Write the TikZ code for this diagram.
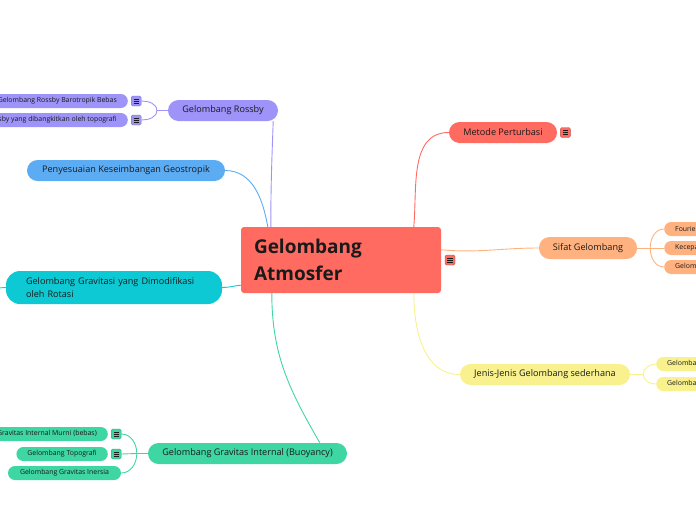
\documentclass[tikz,border=0pt]{standalone}
\usepackage{fontspec}
\setmainfont{Open Sans}
\usetikzlibrary{positioning,calc}

\definecolor{ink}{HTML}{1A1A1A}
\definecolor{rootc}{HTML}{FF6A61}
\definecolor{rossbyc}{HTML}{9D93F8}
\definecolor{geoc}{HTML}{5CACF4}
\definecolor{rotc}{HTML}{0CC9D3}
\definecolor{buoyc}{HTML}{3ED6A2}
\definecolor{pertc}{HTML}{FF6A61}
\definecolor{sifatc}{HTML}{FFB27F}
\definecolor{jenisc}{HTML}{F8F18E}

\begin{document}
\begin{tikzpicture}[x=1pt, y=-1pt,
    root/.style={fill=rootc, rounded corners=3pt, minimum width=200pt,
                 minimum height=66pt, text width=174pt, inner xsep=13pt,
                 align=left, text=ink,
                 font=\fontsize{19}{27}\selectfont\bfseries},
    topic/.style={fill=#1, rounded corners=10.5pt, minimum height=21pt,
                  inner xsep=12pt, inner ysep=0pt, text=ink,
                  font=\fontsize{9.1}{11}\selectfont},
    leaf/.style={fill=#1, rounded corners=7pt, minimum height=14pt,
                 inner xsep=11pt, inner ysep=0pt, text=ink,
                 font=\fontsize{6.9}{8}\selectfont},
    menu/.style={fill=#1, draw=#1!75!black, line width=0.4pt,
                 rounded corners=1.5pt, minimum size=10pt, inner sep=0pt,
                 path picture={
                   \foreach \dy in {-2.2,0,2.2}
                     \draw[ink, line width=0.6pt]
                       ([xshift=-2.6pt, yshift=\dy pt]path picture bounding box.center)
                       -- ++(5.2pt,0);
                 }},
    link/.style={draw=#1, line width=0.9pt}
  ]
  \useasboundingbox (0,0) rectangle (696,520);
  \clip (0,0) rectangle (696,520);

  % centre
  \node[root] (atm) at (341,260) {Gelombang\\Atmosfer};
  \node[menu=rootc] (atmm) at (450,260) {};

  % left side
  \node[topic=rossbyc, minimum width=110pt] (rossby) at (223,110.5) {Gelombang Rossby};
  \node[leaf=rossbyc, anchor=east] (rb1) at (128,101) {Gelombang Rossby Barotropik Bebas};
  \node[menu=rossbyc, right=3pt of rb1] (rb1m) {};
  \node[leaf=rossbyc, anchor=east] (rb2) at (128,120) {Gelombang Rossby yang dibangkitkan oleh topografi};
  \node[menu=rossbyc, right=3pt of rb2] (rb2m) {};

  \node[topic=geoc, minimum width=198pt] (geo) at (126,170.5) {Penyesuaian Keseimbangan Geostropik};

  \node[topic=rotc, minimum width=216pt, minimum height=33pt, rounded corners=14pt,
        text width=176pt, inner xsep=20pt, align=left,
        font=\fontsize{9.1}{13}\selectfont] (rot) at (114,287.5)
    {Gelombang Gravitasi yang Dimodifikasi\\oleh Rotasi};
  \coordinate (rotout) at (-3,288);

  \node[topic=buoyc, minimum width=199pt] (buoy) at (247.5,453.5) {Gelombang Gravitas Internal (Buoyancy)};
  \node[leaf=buoyc, anchor=east] (gi1) at (108,434) {Gelombang Gravitas Internal Murni (bebas)};
  \node[menu=buoyc, right=3pt of gi1] (gi1m) {};
  \node[leaf=buoyc, anchor=east] (gi2) at (108,454) {Gelombang Topografi};
  \node[menu=buoyc, right=3pt of gi2] (gi2m) {};
  \node[leaf=buoyc, minimum width=113pt] (gi3) at (64.5,473) {Gelombang Gravitas Inersia};

  % right side
  \node[topic=pertc, minimum width=108pt] (pert) at (503,132.5) {Metode Perturbasi};
  \node[menu=pertc, right=3pt of pert] (pertm) {};

  \node[topic=sifatc, minimum width=98pt, minimum height=22pt] (sifat) at (588,248) {Sifat Gelombang};
  \node[leaf=sifatc, anchor=west] (sf1) at (664,229) {Fourier};
  \node[leaf=sifatc, anchor=west] (sf2) at (664,248) {Kecepatan};
  \node[leaf=sifatc, anchor=west] (sf3) at (664,267) {Gelombang};

  \node[topic=jenisc, minimum width=170pt] (jenis) at (545,374.5) {Jenis-Jenis Gelombang sederhana};
  \node[leaf=jenisc, anchor=west] (jn1) at (656,364) {Gelombang};
  \node[leaf=jenisc, anchor=west] (jn2) at (656,384) {Gelombang};

  % links to the centre
  \draw[link=rossbyc] ($(rossby.south east)+(-5,0)$) to[out=-92, in=90] ($(atm.north west)+(30,0)$);
  \draw[link=geoc] (geo.east) to[out=0, in=100] ($(atm.north west)+(27,0)$);
  \draw[link=rotc] (rot.east) to[out=0, in=185] ($(atm.south west)+(0,-8)$);
  \draw[link=rotc] (rot.west) -- (rotout);
  \draw[link=buoyc] ($(buoy.north west)+(172,0)$) to[out=120, in=-90] ($(atm.south west)+(31,0)$);
  \draw[link=pertc] (pert.west) to[out=180, in=85] ($(atm.north west)+(173,0)$);
  \draw[link=sifatc] ($(atm.north east)+(0,23)$) to[out=-5, in=180] (sifat.west);
  \draw[link=jenisc] ($(atm.south west)+(173,0)$) to[out=-90, in=180] (jenis.west);

  % sub branches
  \draw[link=rossbyc] (rossby.west) -- ++(-11,0) coordinate (rbj);
  \draw[link=rossbyc] (rb1m.east) to[out=0, in=90] (rbj);
  \draw[link=rossbyc] (rb2m.east) to[out=0, in=-90] (rbj);

  \draw[link=buoyc] (buoy.west) -- ++(-11,0) coordinate (gij);
  \draw[link=buoyc] (gi1m.east) to[out=0, in=90] (gij);
  \draw[link=buoyc] (gi2m.east) -- (gij);
  \draw[link=buoyc] (gi3.east) to[out=0, in=-90] (gij);

  \draw[link=sifatc] (sifat.east) -- ++(13,0) coordinate (sfj);
  \draw[link=sifatc] (sf1.west) to[out=180, in=90] (sfj);
  \draw[link=sifatc] (sf2.west) -- (sfj);
  \draw[link=sifatc] (sf3.west) to[out=180, in=-90] (sfj);

  \draw[link=jenisc] (jenis.east) -- ++(13,0) coordinate (jnj);
  \draw[link=jenisc] (jn1.west) to[out=180, in=90] (jnj);
  \draw[link=jenisc] (jn2.west) to[out=180, in=-90] (jnj);
\end{tikzpicture}
\end{document}
